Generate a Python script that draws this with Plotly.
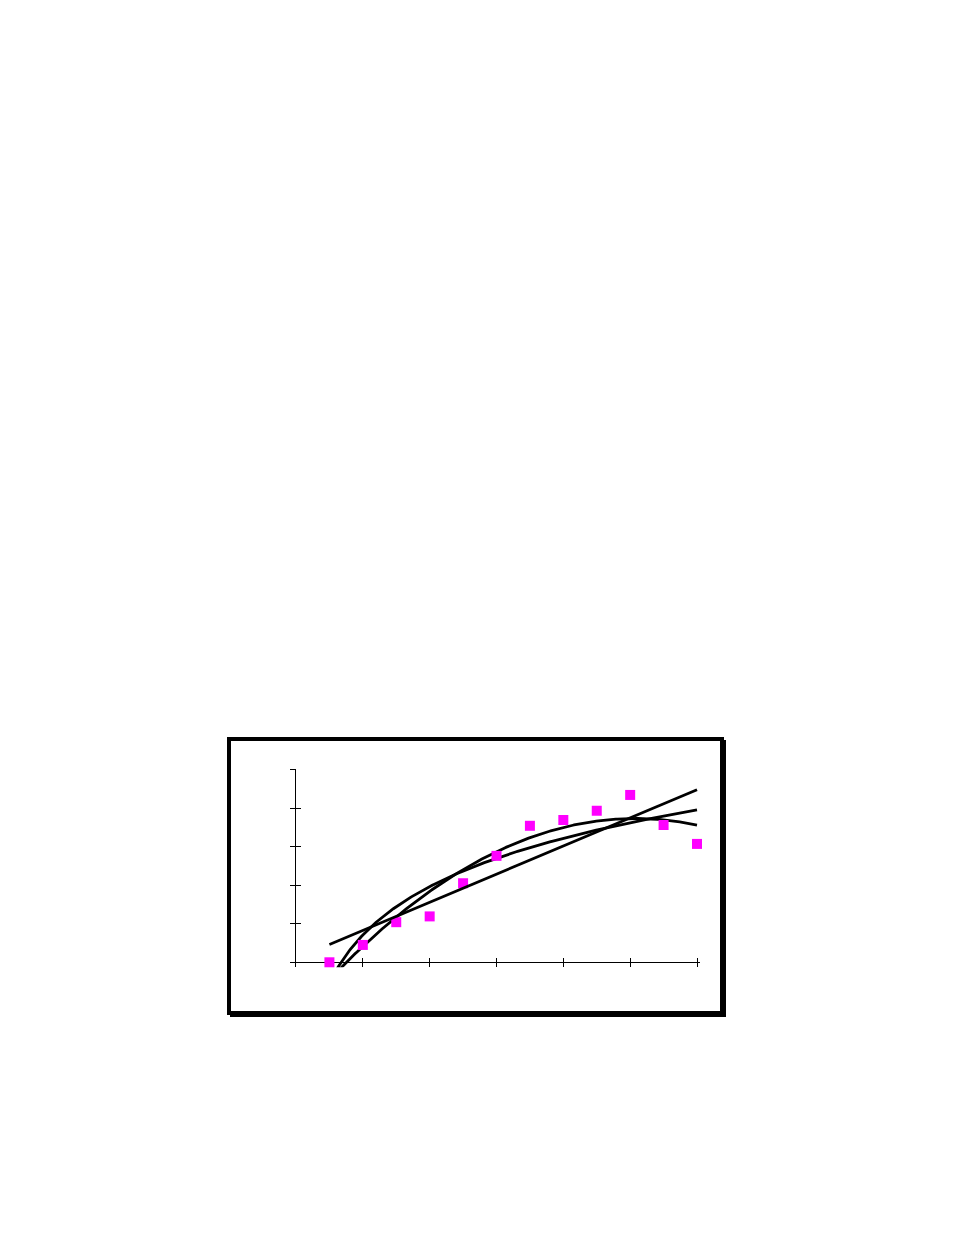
import numpy as np
import plotly.graph_objects as go

# data (x in half steps, y in axis units)
x_vals = [0.5, 1.0, 1.5, 2.0, 2.5, 3.0, 3.5, 4.0, 4.5, 5.0, 5.5, 6.0]
y_vals = [0.0, 0.45, 1.04, 1.19, 2.05, 2.76, 3.54, 3.69, 3.93, 4.34, 3.56, 3.07]
x_ticks = [0, 1, 2, 3, 4, 5, 6]
y_ticks = [0, 1, 2, 3, 4, 5]

x = np.array(x_vals)
y = np.array(y_vals)

# trendlines like Excel: linear, logarithmic, polynomial (order 2)
xs = np.linspace(x.min(), x.max(), 300)
lin = np.polyfit(x, y, 1)
logc = np.polyfit(np.log(x), y, 1)
poly = np.polyfit(x, y, 2)

line_style = dict(color="black", width=2.8)
fig = go.Figure()
fig.add_trace(go.Scatter(x=xs, y=np.polyval(lin, xs), mode="lines", line=line_style,
                         yaxis="y2", hoverinfo="skip"))
fig.add_trace(go.Scatter(x=xs, y=logc[0] * np.log(xs) + logc[1], mode="lines",
                         line=line_style, hoverinfo="skip"))
fig.add_trace(go.Scatter(x=xs, y=np.polyval(poly, xs), mode="lines", line=line_style,
                         hoverinfo="skip"))
fig.add_trace(go.Scatter(x=x_vals, y=y_vals, mode="markers", cliponaxis=False,
                         marker=dict(symbol="square", size=10, color="#FF00FF")))

W, H = 954, 1235
off = 8  # page body margin
yr = [-0.13, 5.005]
xr = [0, 6.05]
px_per_x = (697 - 296) / 6

# frame with drop shadow
shapes = [
    dict(type="rect", xref="paper", yref="paper", layer="below",
         x0=(230 - off) / W, x1=(726 - off) / W,
         y0=1 - (1017 - off) / H, y1=1 - (740 - off) / H,
         fillcolor="black", line=dict(width=0)),
    dict(type="rect", xref="paper", yref="paper", layer="below",
         x0=(229 - off) / W, x1=(722 - off) / W,
         y0=1 - (1013 - off) / H, y1=1 - (739 - off) / H,
         fillcolor="white", line=dict(color="black", width=4)),
]

fig.update_layout(
    width=W, height=H,
    margin=dict(l=0, r=0, t=0, b=0),
    paper_bgcolor="white", plot_bgcolor="rgba(0,0,0,0)",
    showlegend=False,
    shapes=shapes,
    xaxis=dict(domain=[(296 - off) / W, (296 + xr[1] * px_per_x - off) / W], range=xr,
               tickvals=x_ticks,
               ticks="inside", ticklen=9, tickcolor="black", tickwidth=1,
               showline=False, showgrid=False, zeroline=False,
               showticklabels=False, anchor="y"),
    yaxis=dict(domain=[1 - (967.3 - off) / H, 1 - (769.3 - off) / H], range=yr,
               tickvals=y_ticks,
               ticks="outside", ticklen=5, tickcolor="black", tickwidth=1,
               showline=True, linecolor="black", linewidth=1,
               showgrid=False, zeroline=True, zerolinecolor="black",
               zerolinewidth=1, showticklabels=False, anchor="x"),
    yaxis2=dict(overlaying="y", side="left", anchor="x", range=yr,
                tickvals=y_ticks, ticks="inside", ticklen=5, tickcolor="black",
                tickwidth=1, showline=False, showgrid=False, zeroline=False,
                showticklabels=False),
)

fig.write_html("out.html")
